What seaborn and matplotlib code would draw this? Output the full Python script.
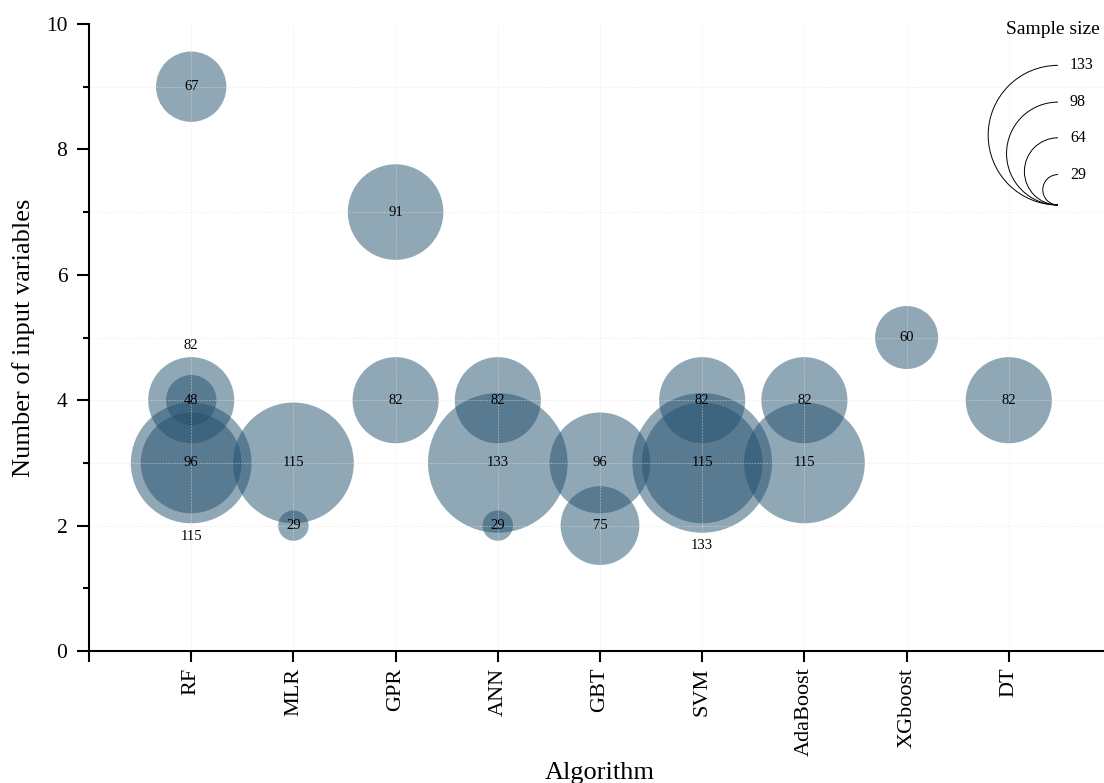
import numpy as np
import pandas as pd
import matplotlib
matplotlib.use("Agg")
import matplotlib.pyplot as plt
from matplotlib.patches import Arc
from matplotlib.ticker import MultipleLocator
import seaborn as sns

# Algorithms on the x axis, in display order
algorithms = ["RF", "MLR", "GPR", "ANN", "GBT", "SVM", "AdaBoost", "XGboost", "DT"]

# One entry per study: algorithm, number of input variables, sample size
study_algorithm = ["RF", "RF", "RF", "RF", "RF",
                   "MLR", "MLR",
                   "GPR", "GPR",
                   "ANN", "ANN", "ANN",
                   "GBT", "GBT",
                   "SVM", "SVM", "SVM",
                   "AdaBoost", "AdaBoost",
                   "XGboost",
                   "DT"]
n_inputs = [9, 4, 4, 3, 3,
            3, 2,
            7, 4,
            4, 3, 2,
            3, 2,
            4, 3, 3,
            4, 3,
            5,
            4]
sample_size = [67, 82, 48, 96, 115,
               115, 29,
               91, 82,
               82, 133, 29,
               96, 75,
               82, 115, 133,
               82, 115,
               60,
               82]
# where each value label sits relative to its bubble
label_place = ["c", "above", "c", "c", "below",
               "c", "c",
               "c", "c",
               "c", "c", "c",
               "c", "c",
               "c", "c", "below",
               "c", "c",
               "c",
               "c"]

legend_sizes = [133, 98, 64, 29]

df = pd.DataFrame({
    "algorithm": study_algorithm,
    "n_inputs": n_inputs,
    "sample_size": sample_size,
    "place": label_place,
})
df["pos"] = df["algorithm"].map({a: i for i, a in enumerate(algorithms)})

DPI = 100
PT_PER_UNIT = 0.756          # bubble diameter in points per unit of sample size
df["area"] = (df["sample_size"] * PT_PER_UNIT) ** 2

sns.set_theme(style="white")
plt.rcParams["font.family"] = ["Liberation Serif", "DejaVu Serif"]
plt.rcParams["mathtext.fontset"] = "stix"
plt.rcParams["text.color"] = "black"
plt.rcParams["axes.labelcolor"] = "black"
plt.rcParams["xtick.color"] = "black"
plt.rcParams["ytick.color"] = "black"

fig = plt.figure(figsize=(11.04, 7.83), dpi=DPI)
ax = fig.add_axes([89 / 1104, 132 / 783, (1111 - 89) / 1104, (651 - 24) / 783])

bubble_color = "#23516F"

sns.scatterplot(data=df, x="pos", y="n_inputs", s=df["area"].values,
                color=bubble_color, alpha=0.5, linewidth=0, legend=False,
                ax=ax, zorder=2)

# faint dotted guide lines through the occupied rows and columns
guide = dict(color="#e4e4e4", lw=0.6, ls=(0, (2, 1.5)), alpha=0.55, zorder=2.5)
for p in range(len(algorithms)):
    ax.axvline(p, **guide)
for lvl in sorted(set(n_inputs)):
    ax.axhline(lvl, **guide)

# value labels
for _, r in df.iterrows():
    rad = 0.5 * r["sample_size"] * PT_PER_UNIT
    if r["place"] == "above":
        dy, va = rad + 3.5, "bottom"
    elif r["place"] == "below":
        dy, va = -(rad + 4.5), "top"
    else:
        dy, va = 0, "center"
    ax.annotate(str(r["sample_size"]), (r["pos"], r["n_inputs"]),
                xytext=(0, dy), textcoords="offset points",
                ha="center", va=va, fontsize=10.5, color="black", zorder=3)

ax.set_xlim(-1, 9)
ax.set_ylim(0, 10)
ax.set_xticks(range(-1, len(algorithms)))
ax.set_xticklabels([""] + algorithms, rotation=90, fontsize=16)
ax.yaxis.set_major_locator(MultipleLocator(2))
ax.yaxis.set_minor_locator(MultipleLocator(1))
ax.tick_params(axis="y", which="major", labelsize=15.5, length=9, width=1.5,
               direction="out", left=True, pad=6.5)
ax.tick_params(axis="y", which="minor", length=4.5, width=1.5, direction="out", left=True)
ax.tick_params(axis="x", which="major", length=8, width=1.5, direction="out",
               bottom=True, pad=4)

for side in ["top", "right"]:
    ax.spines[side].set_visible(False)
for side in ["left", "bottom"]:
    ax.spines[side].set_linewidth(1.5)
    ax.spines[side].set_color("black")

ax.set_xlabel("Algorithm", fontsize=19, labelpad=4)
ax.set_ylabel("Number of input variables", fontsize=19, labelpad=8)

# size key: nested half circles sharing one bottom point
base_x, base_y = 1058, 783 - 205      # pixels from the lower-left corner
px_per_unit = PT_PER_UNIT * DPI / 72
for v in legend_sizes:
    d = v * px_per_unit
    arc = Arc((base_x / DPI, (base_y + d / 2) / DPI), d / DPI, d / DPI,
              theta1=90, theta2=270, transform=fig.dpi_scale_trans,
              color="black", lw=0.7)
    fig.add_artist(arc)
    fig.text((base_x + 12) / 1104, (base_y + d) / 783, str(v),
             ha="left", va="center", fontsize=11.5)
fig.text(1053 / 1104, 1 - 29 / 783, "Sample size", ha="center", va="center",
         fontsize=14)

fig.savefig("out.png", dpi=DPI)
